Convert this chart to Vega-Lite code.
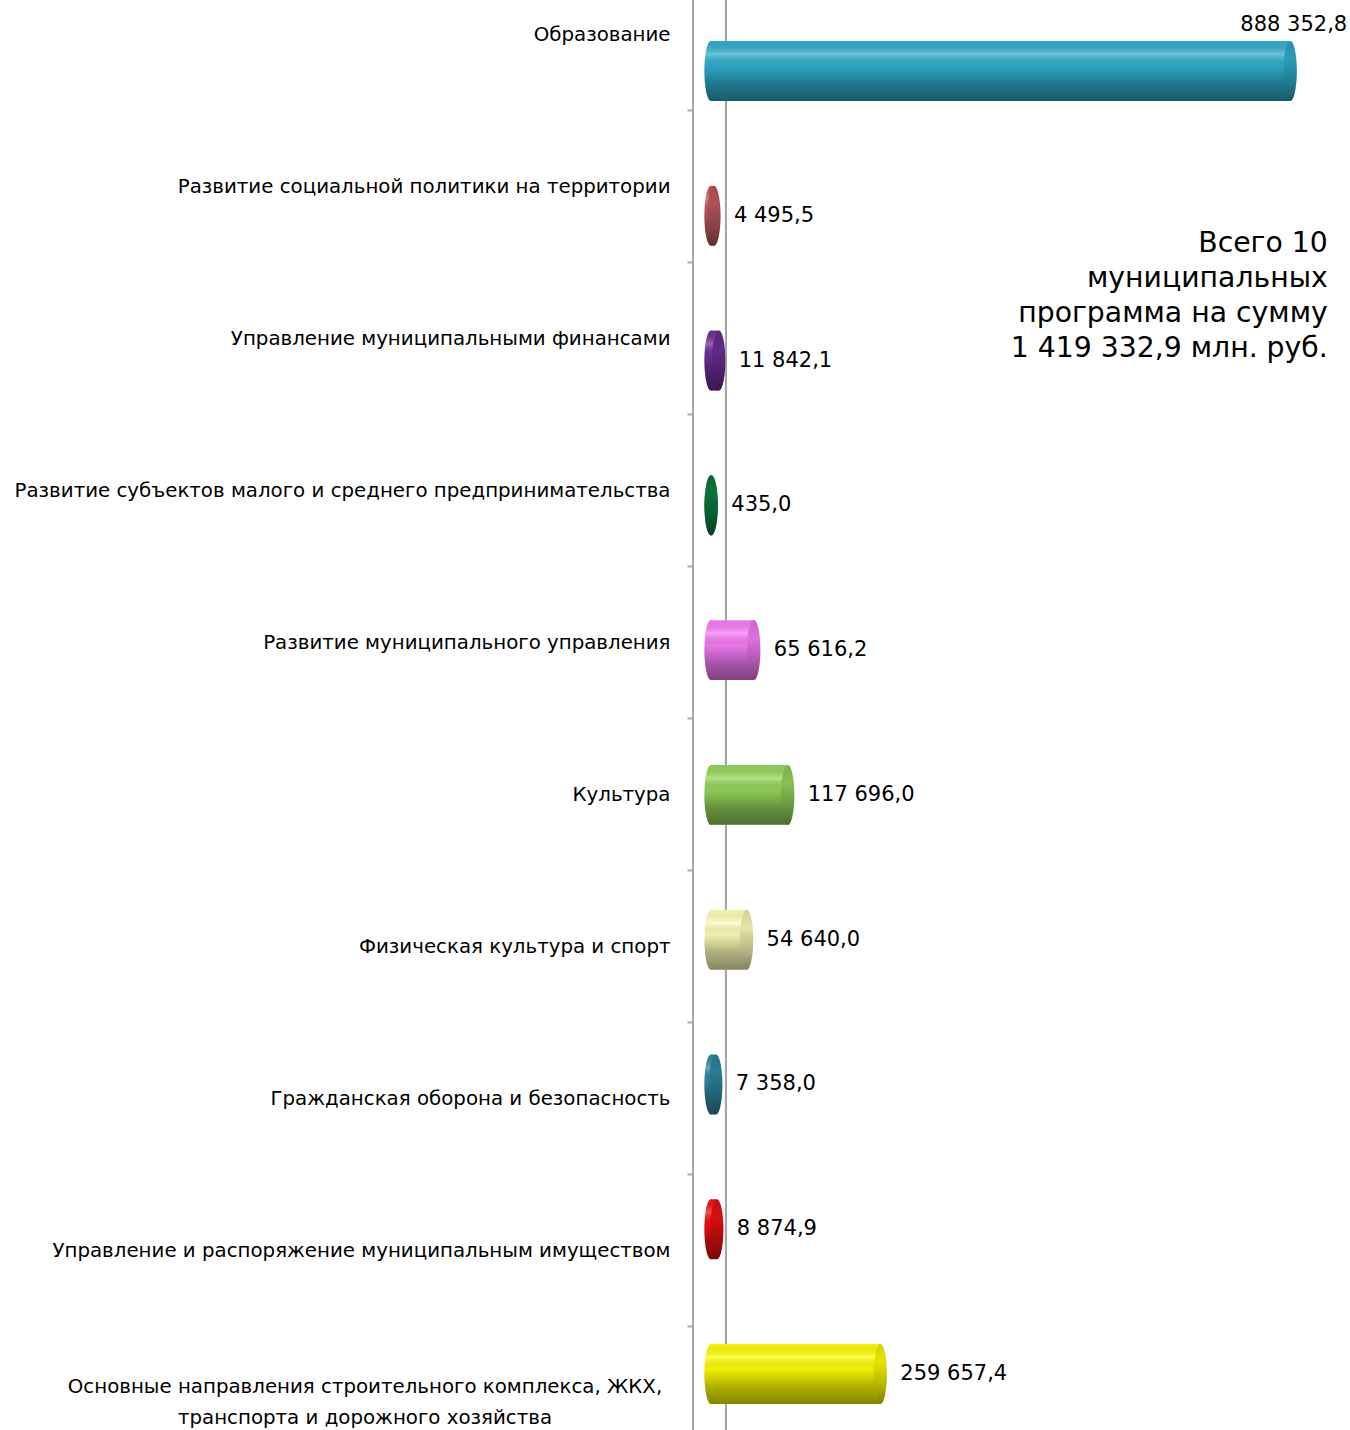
{
  "$schema": "https://vega.github.io/schema/vega-lite/v6.json",
  "autosize": "none",
  "padding": {"left": 693, "top": 0, "right": 5, "bottom": 0},
  "width": 652,
  "height": 1430,
  "background": "white",
  "config": {
    "view": {"stroke": null},
    "font": "DejaVu Sans",
    "locale": {"number": {"decimal": ",", "thousands": " ", "grouping": [3], "currency": ["", ""]}}
  },
  "datasets": {
    "main": [
      {"cat": "Образование", "v": 888352.8},
      {"cat": "Развитие социальной политики на территории", "v": 4495.5},
      {"cat": "Управление муниципальными финансами", "v": 11842.1},
      {"cat": "Развитие субъектов малого и среднего предпринимательства", "v": 435.0},
      {"cat": "Развитие муниципального управления", "v": 65616.2},
      {"cat": "Культура", "v": 117696.0},
      {"cat": "Физическая культура и спорт", "v": 54640.0},
      {"cat": "Гражданская оборона и безопасность", "v": 7358.0},
      {"cat": "Управление и распоряжение муниципальным имуществом", "v": 8874.9},
      {"cat": "Основные направления строительного комплекса, ЖКХ,\nтранспорта и дорожного хозяйства", "v": 259657.4}
    ],
    "note": [{"t": "Всего 10\nмуниципальных\nпрограмма на сумму\n1 419 332,9 млн. руб."}]
  },
  "data": {"name": "main"},
  "resolve": {"scale": {"y": "independent"}},
  "layer": [
    {
      "mark": {"type": "rule", "color": "#A6A6A6", "strokeWidth": 2},
      "encoding": {"x": {"datum": 23000, "type": "quantitative", "scale": {"domain": [-27600, 972400], "nice": false, "zero": false}, "axis": null}}
    },
    {
      "mark": {"type": "rule", "color": "#A6A6A6", "strokeWidth": 2},
      "encoding": {"x": {"datum": -27600, "type": "quantitative"}}
    },
    {
      "mark": {"type": "tick", "opacity": 0},
      "encoding": {
        "x": {"datum": 0, "type": "quantitative"},
        "y": {
          "field": "cat", "type": "nominal", "sort": null,
          "scale": {"type": "band", "range": [-42, 1478], "paddingInner": 0, "paddingOuter": 0},
          "axis": {
            "title": null, "domain": false,
            "tickColor": "#A6A6A6", "tickWidth": 2, "tickSize": 6, "tickBand": "extent",
            "labelFont": "DejaVu Sans", "labelFontSize": 19.8, "labelColor": "#000000",
            "labelLimit": 800, "labelOverlap": false,
            "labelBaseline": "middle", "labelAlign": "right", "labelPadding": 17,
            "labelExpr": "indexof(datum.label, 'Основные') == 0 ? '' : datum.label"
          }
        }
      }
    },
    {
      "transform": [{"filter": "indexof(datum.cat, 'Основные') == 0"}],
      "mark": {"type": "text", "align": "center", "baseline": "middle", "lineBreak": "\n", "lineHeight": 31, "dx": -328, "dy": -15, "fontSize": 19.8, "font": "DejaVu Sans", "color": "#000000"},
      "encoding": {
        "x": {"datum": -27600, "type": "quantitative"},
        "y": {"field": "cat", "type": "nominal", "sort": null, "axis": null,
          "scale": {"type": "band", "domain": ["Образование", "Развитие социальной политики на территории", "Управление муниципальными финансами", "Развитие субъектов малого и среднего предпринимательства", "Развитие муниципального управления", "Культура", "Физическая культура и спорт", "Гражданская оборона и безопасность", "Управление и распоряжение муниципальным имуществом", "Основные направления строительного комплекса, ЖКХ,\nтранспорта и дорожного хозяйства"], "range": [-42, 1478], "paddingInner": 0, "paddingOuter": 0}},
        "text": {"field": "cat"}
      }
    },
    {
      "mark": {"type": "point", "filled": true, "size": 3600, "opacity": 1, "strokeWidth": 0, "shape": "M0,-1A0.22,1,0,1,1,0,1A0.22,1,0,1,1,0,-1Z"},
      "encoding": {
        "x": {"datum": 0, "type": "quantitative"},
        "y": {"field": "cat", "type": "nominal", "sort": null, "axis": null, "scale": {"type": "band", "range": [-1.4, 1446.4], "paddingInner": 0.586, "paddingOuter": 0.293}},
        "color": {"field": "cat", "type": "nominal", "legend": null, "sort": null, "scale": {"range": ["#2EAFCE", "#C25B60", "#6E2E96", "#0A8040", "#F77CF7", "#95D65A", "#FFFFB8", "#2E8AA6", "#EE1010", "#FFFF00"]}}
      }
    },
    {
      "mark": {"type": "point", "filled": true, "size": 3600, "opacity": 1, "strokeWidth": 0, "shape": "M0,-1A0.22,1,0,1,1,0,1A0.22,1,0,1,1,0,-1Z",
        "fill": {"gradient": "linear", "x1": 0, "y1": 0, "x2": 0, "y2": 1, "stops": [{"offset": 0, "color": "rgba(0,0,0,0.04)"}, {"offset": 0.22, "color": "rgba(255,255,255,0.28)"}, {"offset": 0.42, "color": "rgba(0,0,0,0.06)"}, {"offset": 0.72, "color": "rgba(0,0,0,0.32)"}, {"offset": 1, "color": "rgba(0,0,0,0.48)"}]}},
      "encoding": {
        "x": {"datum": 0, "type": "quantitative"},
        "y": {"field": "cat", "type": "nominal", "sort": null, "axis": null, "scale": {"type": "band", "range": [-1.4, 1446.4], "paddingInner": 0.586, "paddingOuter": 0.293}}
      }
    },
    {
      "mark": {"type": "bar", "opacity": 1},
      "encoding": {
        "x": {"field": "v", "type": "quantitative"},
        "y": {"field": "cat", "type": "nominal", "sort": null, "axis": null, "scale": {"type": "band", "range": [-1.4, 1446.4], "paddingInner": 0.586, "paddingOuter": 0.293}},
        "color": {"field": "cat", "type": "nominal", "legend": null, "sort": null}
      }
    },
    {
      "mark": {"type": "bar", "opacity": 1,
        "fill": {"gradient": "linear", "x1": 0, "y1": 0, "x2": 0, "y2": 1, "stops": [{"offset": 0, "color": "rgba(0,0,0,0.04)"}, {"offset": 0.22, "color": "rgba(255,255,255,0.28)"}, {"offset": 0.42, "color": "rgba(0,0,0,0.06)"}, {"offset": 0.72, "color": "rgba(0,0,0,0.32)"}, {"offset": 1, "color": "rgba(0,0,0,0.48)"}]}},
      "encoding": {
        "x": {"field": "v", "type": "quantitative"},
        "y": {"field": "cat", "type": "nominal", "sort": null, "axis": null, "scale": {"type": "band", "range": [-1.4, 1446.4], "paddingInner": 0.586, "paddingOuter": 0.293}}
      }
    },
    {
      "mark": {"type": "point", "filled": true, "size": 3600, "opacity": 1, "strokeWidth": 0, "shape": "M0,-1A0.22,1,0,1,1,0,1A0.22,1,0,1,1,0,-1Z"},
      "encoding": {
        "x": {"field": "v", "type": "quantitative"},
        "y": {"field": "cat", "type": "nominal", "sort": null, "axis": null, "scale": {"type": "band", "range": [-1.4, 1446.4], "paddingInner": 0.586, "paddingOuter": 0.293}},
        "color": {"field": "cat", "type": "nominal", "legend": null, "sort": null}
      }
    },
    {
      "mark": {"type": "point", "filled": true, "size": 3600, "opacity": 1, "strokeWidth": 0, "shape": "M0,-1A0.22,1,0,1,1,0,1A0.22,1,0,1,1,0,-1Z",
        "fill": {"gradient": "linear", "x1": 0, "y1": 0, "x2": 0, "y2": 1, "stops": [{"offset": 0, "color": "rgba(0,0,0,0.18)"}, {"offset": 0.3, "color": "rgba(0,0,0,0.1)"}, {"offset": 0.7, "color": "rgba(0,0,0,0.3)"}, {"offset": 1, "color": "rgba(0,0,0,0.5)"}]}},
      "encoding": {
        "x": {"field": "v", "type": "quantitative"},
        "y": {"field": "cat", "type": "nominal", "sort": null, "axis": null, "scale": {"type": "band", "range": [-1.4, 1446.4], "paddingInner": 0.586, "paddingOuter": 0.293}}
      }
    },
    {
      "transform": [{"filter": "datum.cat != 'Образование'"}],
      "mark": {"type": "text", "align": "left", "baseline": "middle", "dx": 20, "fontSize": 21, "font": "DejaVu Sans", "color": "#000000"},
      "encoding": {
        "x": {"field": "v", "type": "quantitative"},
        "y": {"field": "cat", "type": "nominal", "sort": null, "axis": null, "scale": {"type": "band", "domain": ["Образование", "Развитие социальной политики на территории", "Управление муниципальными финансами", "Развитие субъектов малого и среднего предпринимательства", "Развитие муниципального управления", "Культура", "Физическая культура и спорт", "Гражданская оборона и безопасность", "Управление и распоряжение муниципальным имуществом", "Основные направления строительного комплекса, ЖКХ,\nтранспорта и дорожного хозяйства"], "range": [-1.4, 1446.4], "paddingInner": 0.586, "paddingOuter": 0.293}},
        "text": {"field": "v", "type": "quantitative", "format": ",.1f"}
      }
    },
    {
      "transform": [{"filter": "datum.cat == 'Образование'"}],
      "mark": {"type": "text", "align": "right", "baseline": "middle", "dx": 57, "dy": -46, "fontSize": 21, "font": "DejaVu Sans", "color": "#000000"},
      "encoding": {
        "x": {"field": "v", "type": "quantitative"},
        "y": {"field": "cat", "type": "nominal", "sort": null, "axis": null, "scale": {"type": "band", "domain": ["Образование", "Развитие социальной политики на территории", "Управление муниципальными финансами", "Развитие субъектов малого и среднего предпринимательства", "Развитие муниципального управления", "Культура", "Физическая культура и спорт", "Гражданская оборона и безопасность", "Управление и распоряжение муниципальным имуществом", "Основные направления строительного комплекса, ЖКХ,\nтранспорта и дорожного хозяйства"], "range": [-1.4, 1446.4], "paddingInner": 0.586, "paddingOuter": 0.293}},
        "text": {"field": "v", "type": "quantitative", "format": ",.1f"}
      }
    },
    {
      "data": {"name": "note"},
      "mark": {"type": "text", "align": "right", "baseline": "middle", "lineBreak": "\n", "lineHeight": 35, "dy": -94, "fontSize": 28.3, "font": "DejaVu Sans", "color": "#000000"},
      "encoding": {
        "x": {"datum": 946000, "type": "quantitative"},
        "y": {"datum": "Управление муниципальными финансами", "type": "nominal", "axis": null,
          "scale": {"type": "band", "domain": ["Образование", "Развитие социальной политики на территории", "Управление муниципальными финансами", "Развитие субъектов малого и среднего предпринимательства", "Развитие муниципального управления", "Культура", "Физическая культура и спорт", "Гражданская оборона и безопасность", "Управление и распоряжение муниципальным имуществом", "Основные направления строительного комплекса, ЖКХ,\nтранспорта и дорожного хозяйства"], "range": [-42, 1478], "paddingInner": 0, "paddingOuter": 0}},
        "text": {"field": "t"}
      }
    }
  ]
}
